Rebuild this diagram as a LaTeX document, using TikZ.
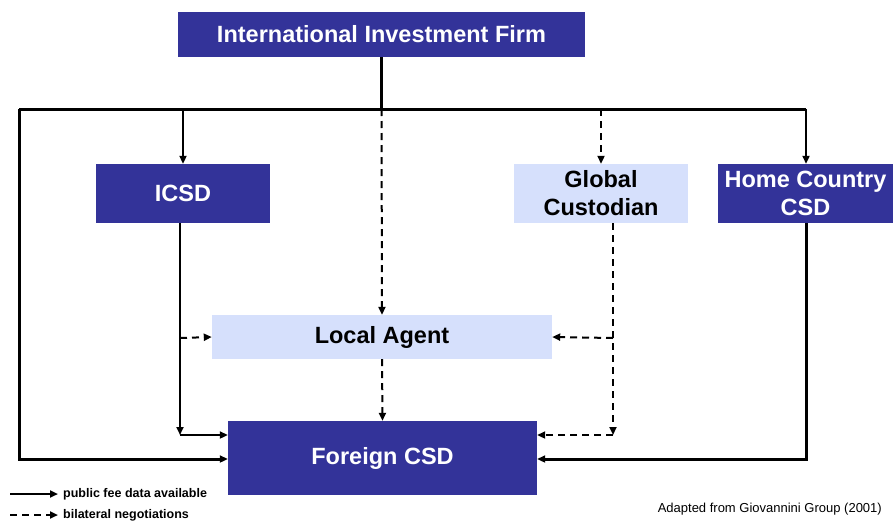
\documentclass[tikz,border=0pt]{standalone}
\usepackage{fontspec}
\setmainfont{Liberation Sans}
\usepackage{tikz}
\usetikzlibrary{arrows.meta,positioning,calc}
\definecolor{firmblue}{RGB}{51,51,153}
\definecolor{agentblue}{RGB}{214,224,252}
\tikzset{
  darkbox/.style={rectangle, fill=firmblue, text=white, inner sep=0pt,
              font=\fontsize{23.5}{28}\selectfont\bfseries, align=center},
  lightbox/.style={rectangle, fill=agentblue, text=black, inner sep=0pt,
              font=\fontsize{23.5}{28}\selectfont\bfseries, align=center},
  arr/.style={-{Triangle[length=8pt,width=7pt]}, line width=#1},
  arr/.default=2pt,
  dasharr/.style={-{Triangle[length=8pt,width=7pt]}, line width=2pt, dash pattern=on 7pt off 5pt},
}

\begin{document}
\begin{tikzpicture}[x=1pt, y=-1pt]
        \useasboundingbox (0,0) rectangle (893,522);

        % Boxes
        \node[darkbox, minimum width=407pt, minimum height=45pt] (firm) at (381.5,34.5) {International Investment Firm};
        \node[darkbox, minimum width=174pt, minimum height=59pt] (icsd) at (183,193.5) {ICSD};
        \node[lightbox, minimum width=174pt, minimum height=59pt] (glob) at (601,193.5) {Global\\Custodian};
        \node[darkbox, minimum width=175pt, minimum height=59pt] (home) at (805.5,193.5) {Home Country\\CSD};
        \node[lightbox, minimum width=340pt, minimum height=44pt] (agent) at (382,337) {Local Agent};
        \node[darkbox, minimum width=309pt, minimum height=74pt] (fcsd) at (382.5,458) {Foreign CSD};

        % Bar under the firm
        \coordinate (barL) at (19,109);
        \coordinate (barR) at (806,109);
        \draw[line width=3pt] (firm.south) -- (firm.south |- barL);
        \draw[line width=3pt] (barL) -- (barR);

        % Public fee data
        \draw[arr=2.5pt] (icsd.north |- barL) -- (icsd.north);
        \draw[arr=2.5pt] (barR) -- (home.north -| barR);
        \draw[arr=3pt] (barL) -- (19,459) -- (fcsd.west |- 0,459);
        \draw[arr=3pt] (home.south -| barR) -- (806,459) -- (fcsd.east |- 0,459);
        \coordinate (icsdC) at (180,435);
        \draw[arr] (icsd.south -| icsdC) -- (icsdC);
        \draw[arr] (icsdC) -- (fcsd.west |- icsdC);

        % Bilateral negotiations
        \draw[dasharr] (firm.south |- barL) -- (agent.north);
        \draw[dasharr] (glob.north |- barL) -- (glob.north);
        \draw[dasharr] (180,338) -- (agent.west);
        \draw[dasharr] (agent.south) -- (fcsd.north);
        \coordinate (globC) at (613,435);
        \draw[dasharr] (glob.south -| globC) -- (globC);
        \draw[dasharr] (613,338) -- (agent.east);
        \draw[dasharr] (globC) -- (fcsd.east |- globC);

        % Legend
        \coordinate (legA) at (10,494);
        \coordinate (legB) at (58,494);
        \coordinate (legC) at (10,515);
        \coordinate (legD) at (58,515);
        \draw[arr] (legA) -- (legB);
        \draw[dasharr] (legC) -- (legD);
        \node[anchor=west, inner sep=0pt, font=\fontsize{12.5}{14}\selectfont\bfseries] (legpub) at (63,494) {public fee data available};
        \node[anchor=west, inner sep=0pt, font=\fontsize{12.5}{14}\selectfont\bfseries] (legbil) at (63,515) {bilateral negotiations};

        % Source
        \node[anchor=east, inner sep=0pt, font=\fontsize{13}{15}\selectfont] (src) at (882,509) {Adapted from Giovannini Group (2001)};
      \end{tikzpicture}
\end{document}
